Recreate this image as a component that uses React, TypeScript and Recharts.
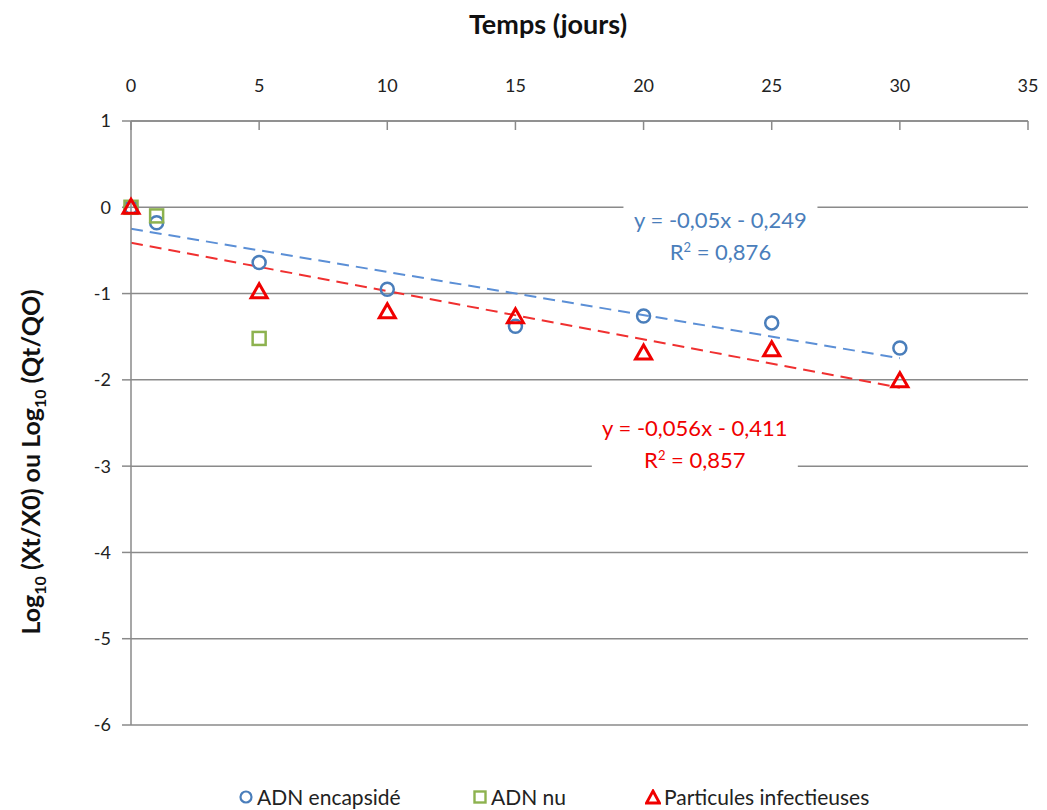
import React from 'react';
import {
  ComposedChart,
  Scatter,
  XAxis,
  YAxis,
  CartesianGrid,
  ReferenceLine,
  ReferenceDot,
} from 'recharts';

const xTicks = [0, 5, 10, 15, 20, 25, 30, 35];
const yTicks = [1, 0, -1, -2, -3, -4, -5, -6];

const encapsideDays = [0, 1, 5, 10, 15, 20, 25, 30];
const encapsideLog = [0, -0.18, -0.64, -0.95, -1.38, -1.26, -1.34, -1.63];

const nuDays = [0, 1, 5];
const nuLog = [0, -0.1, -1.52];

const infectDays = [0, 5, 10, 15, 20, 25, 30];
const infectLog = [0, -0.98, -1.21, -1.27, -1.69, -1.65, -2.01];

// trend line endpoints (y = -0,05x - 0,249 and y = -0,056x - 0,411)
const blueTrend = [
  { x: 0, y: -0.249 },
  { x: 30, y: -1.749 },
];
const redTrend = [
  { x: 0, y: -0.411 },
  { x: 30, y: -2.091 },
];

const BLUE = '#4a7ebb';
const GREEN = '#8db24f';
const RED = '#f00000';
const GRID = '#8a8a8a';
const FONT = 'Lato, "Open Sans", sans-serif';

const zip = (xs: number[], ys: number[]) => xs.map((x, i) => ({ x, y: ys[i] }));

const encapside = zip(encapsideDays, encapsideLog);
const nu = zip(nuDays, nuLog);
const infect = zip(infectDays, infectLog);

const Circle = ({ cx, cy }: any) => (
  <circle cx={cx} cy={cy} r={6.5} fill="none" stroke={BLUE} strokeWidth={2.5} />
);
const Square = ({ cx, cy }: any) => (
  <rect x={cx - 6.5} y={cy - 6.5} width={13} height={13} fill="none" stroke={GREEN} strokeWidth={2.5} />
);
const Triangle = ({ cx, cy }: any) => (
  <path
    d={`M${cx},${cy - 8} L${cx + 8},${cy + 6} L${cx - 8},${cy + 6} Z`}
    fill="none"
    stroke={RED}
    strokeWidth={3}
  />
);

const TopTick = ({ x, y, payload }: any) => (
  <g>
    <line x1={x} y1={y} x2={x} y2={y + 9} stroke={GRID} strokeWidth={1.5} />
    <text x={x} y={y - 29} textAnchor="middle" fontSize={18} fill="#222" fontFamily={FONT}>
      {payload.value}
    </text>
  </g>
);

const EqLabel = ({ cx, cy, color, eq, r2, boxW }: any) => (
  <g>
    <rect x={cx - boxW / 2} y={cy - 24} width={boxW} height={62} fill="#fff" />
    <text x={cx} y={cy} textAnchor="middle" fontSize={22} fill={color} fontFamily={FONT}>
      {eq}
    </text>
    <text x={cx} y={cy + 32} textAnchor="middle" fontSize={22} fill={color} fontFamily={FONT}>
      R<tspan dy={-8} fontSize={13}>2</tspan>
      <tspan dy={8}> = {r2}</tspan>
    </text>
  </g>
);

const legendItems = [
  { name: 'ADN encapsidé', left: 238, mark: 'circle' },
  { name: 'ADN nu', left: 472, mark: 'square' },
  { name: 'Particules infectieuses', left: 645, mark: 'triangle' },
];

const LegendMark = ({ mark }: { mark: string }) => (
  <svg width={16} height={16} style={{ marginRight: 3 }}>
    {mark === 'circle' && <circle cx={8} cy={8} r={5.5} fill="none" stroke={BLUE} strokeWidth={2.2} />}
    {mark === 'square' && <rect x={2.5} y={2.5} width={11} height={11} fill="none" stroke={GREEN} strokeWidth={2.4} />}
    {mark === 'triangle' && <path d="M8,2 L14.5,14 L1.5,14 Z" fill="none" stroke={RED} strokeWidth={2.8} />}
  </svg>
);

export default function App() {
  return (
    <div style={{ position: 'relative', width: 1047, height: 810, background: '#fff' }}>
      <style>{`body{margin:0}`}</style>
      <ComposedChart width={1047} height={810} margin={{ top: 61, right: 19, left: 71, bottom: 85 }}>
        <CartesianGrid horizontal vertical={false} stroke={GRID} strokeWidth={1.5} />
        <XAxis
          type="number"
          dataKey="x"
          orientation="top"
          domain={[0, 35]}
          ticks={xTicks}
          height={60}
          tickSize={0}
          tickMargin={0}
          tickLine={false}
          tick={<TopTick />}
          axisLine={{ stroke: GRID, strokeWidth: 1.5 }}
          label={{
            content: () => (
              <text x={548} y={34} textAnchor="middle" fontSize={27} fontWeight="bold" fill="#111" fontFamily={FONT}>
                Temps (jours)
              </text>
            ),
          }}
        />
        <YAxis
          type="number"
          dataKey="y"
          domain={[-6, 1]}
          ticks={yTicks}
          width={60}
          tickSize={9}
          tickMargin={11}
          tickLine={{ stroke: GRID, strokeWidth: 1.5 }}
          axisLine={{ stroke: GRID, strokeWidth: 1.5 }}
          tick={{ fontSize: 18, fill: '#222', fontFamily: FONT }}
          label={{
            content: () => (
              <text
                transform="translate(40,462) rotate(-90)"
                textAnchor="middle"
                fontSize={25}
                fontWeight="bold"
                fill="#111"
                fontFamily={FONT}
              >
                Log<tspan dy={6} fontSize={16}>10</tspan>
                <tspan dy={-6}> (Xt/X0) ou Log</tspan>
                <tspan dy={6} fontSize={16}>10</tspan>
                <tspan dy={-6}> (Qt/QO)</tspan>
              </text>
            ),
          }}
        />
        <ReferenceLine segment={blueTrend} stroke="#5b8fd6" strokeWidth={2} strokeDasharray="12 7" />
        <ReferenceLine segment={redTrend} stroke="#f03030" strokeWidth={2} strokeDasharray="12 7" />
        <ReferenceDot
          x={23.0}
          y={-0.243}
          r={0}
          shape={(p: any) => <EqLabel {...p} color={BLUE} eq="y = -0,05x - 0,249" r2="0,876" boxW={194} />}
        />
        <ReferenceDot
          x={22.0}
          y={-2.65}
          r={0}
          shape={(p: any) => <EqLabel {...p} color={RED} eq="y = -0,056x - 0,411" r2="0,857" boxW={206} />}
        />
        <Scatter name="ADN encapsidé" data={encapside} shape={<Circle />} isAnimationActive={false} />
        <Scatter name="ADN nu" data={nu} shape={<Square />} isAnimationActive={false} />
        <Scatter name="Particules infectieuses" data={infect} shape={<Triangle />} isAnimationActive={false} />
      </ComposedChart>
      {legendItems.map((it) => (
        <div
          key={it.name}
          style={{
            position: 'absolute',
            left: it.left,
            top: 784,
            display: 'flex',
            alignItems: 'center',
            fontFamily: FONT,
            fontSize: 21,
            color: '#222',
          }}
        >
          <LegendMark mark={it.mark} />
          {it.name}
        </div>
      ))}
    </div>
  );
}
